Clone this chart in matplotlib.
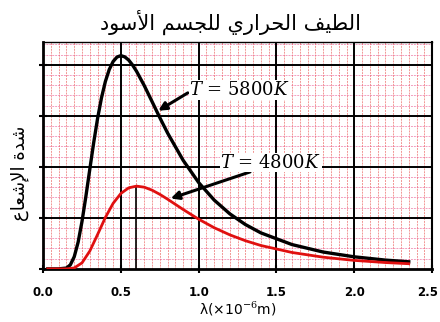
import numpy as np
import matplotlib
matplotlib.use("Agg")
import matplotlib.pyplot as plt
import matplotlib.transforms as mtransforms

# قيم مقروءة من الصورة
wavelength_5800 = [0.03, 0.10, 0.15, 0.175, 0.20, 0.225, 0.25, 0.275, 0.30, 0.325, 0.35, 0.375,
                   0.40, 0.425, 0.45, 0.475, 0.50, 0.525, 0.55, 0.575, 0.60, 0.65, 0.70, 0.75,
                   0.80, 0.90, 1.00, 1.10, 1.20, 1.30, 1.40, 1.60, 1.80, 2.00, 2.20, 2.35]
intensity_5800 = [0.0, 0.0, 0.016, 0.079, 0.238, 0.523, 0.931, 1.423, 1.952, 2.473, 2.948, 3.351,
                  3.672, 3.908, 4.065, 4.153, 4.180, 4.155, 4.093, 3.995, 3.876, 3.593, 3.280, 2.965,
                  2.663, 2.128, 1.691, 1.347, 1.079, 0.869, 0.705, 0.476, 0.330, 0.236, 0.172, 0.139]
wavelength_4800 = [0.03, 0.10, 0.15, 0.20, 0.25, 0.30, 0.35, 0.40, 0.45, 0.50, 0.55, 0.60,
                   0.65, 0.70, 0.75, 0.80, 0.90, 1.00, 1.10, 1.20, 1.30, 1.40, 1.60, 1.80,
                   2.00, 2.20, 2.35]
intensity_4800 = [0.0, 0.0, 0.0, 0.018, 0.118, 0.349, 0.673, 1.007, 1.285, 1.479, 1.588, 1.622,
                  1.601, 1.543, 1.461, 1.366, 1.164, 0.973, 0.806, 0.667, 0.552, 0.458, 0.321, 0.229,
                  0.166, 0.124, 0.101]
x_ticks = [0.0, 0.5, 1.0, 1.5, 2.0, 2.5]
x_tick_labels = ["0.0", "0.5", "1.0", "1.5", "2.0", "2.5"]
y_ticks = [0, 1, 2, 3, 4]
peak_4800 = (0.60, 1.622)

title_text = "الطيف الحراري للجسم الأسود"
ylabel_text = "شدة الإشعاع"

# تشكيل الحروف العربية يدويا (matplotlib لا يقوم بالتشكيل)
FORMS = {
    "ا": ("\ufe8d", "\ufe8e", None, None),
    "أ": ("\ufe83", "\ufe84", None, None),
    "إ": ("\ufe87", "\ufe88", None, None),
    "ة": ("\ufe93", "\ufe94", None, None),
    "ج": ("\ufe9d", "\ufe9e", "\ufe9f", "\ufea0"),
    "ح": ("\ufea1", "\ufea2", "\ufea3", "\ufea4"),
    "د": ("\ufea9", "\ufeaa", None, None),
    "ر": ("\ufead", "\ufeae", None, None),
    "س": ("\ufeb1", "\ufeb2", "\ufeb3", "\ufeb4"),
    "ش": ("\ufeb5", "\ufeb6", "\ufeb7", "\ufeb8"),
    "ط": ("\ufec1", "\ufec2", "\ufec3", "\ufec4"),
    "ع": ("\ufec9", "\ufeca", "\ufecb", "\ufecc"),
    "ف": ("\ufed1", "\ufed2", "\ufed3", "\ufed4"),
    "ل": ("\ufedd", "\ufede", "\ufedf", "\ufee0"),
    "م": ("\ufee1", "\ufee2", "\ufee3", "\ufee4"),
    "و": ("\ufeed", "\ufeee", None, None),
    "ي": ("\ufef1", "\ufef2", "\ufef3", "\ufef4"),
}
LAM_ALEF = {"ا": ("\ufefb", "\ufefc"), "أ": ("\ufef7", "\ufef8"), "إ": ("\ufef9", "\ufefa")}


def dual(ch):
    return ch in FORMS and FORMS[ch][2] is not None


def shape_arabic(text):
    out = []
    i = 0
    while i < len(text):
        ch = text[i]
        prev = text[i - 1] if i > 0 else ""
        joins_prev = dual(prev)
        if ch == "ل" and i + 1 < len(text) and text[i + 1] in LAM_ALEF:
            iso, fin = LAM_ALEF[text[i + 1]]
            out.append(fin if joins_prev else iso)
            i += 2
            continue
        if ch not in FORMS:
            out.append(ch)
            i += 1
            continue
        nxt = text[i + 1] if i + 1 < len(text) else ""
        joins_next = dual(ch) and nxt in FORMS
        iso, fin, ini, med = FORMS[ch]
        if joins_prev and joins_next:
            out.append(med)
        elif joins_prev:
            out.append(fin)
        elif joins_next:
            out.append(ini)
        else:
            out.append(iso)
        i += 1
    return "".join(out)[::-1]


plt.rcParams["font.family"] = ["DejaVu Sans"]
plt.rcParams["mathtext.fontset"] = "dejavuserif"

fig = plt.figure(figsize=(4.4, 3.22), dpi=100)
ax = fig.add_axes([0.098, 0.165, 0.884, 0.705])

# ورق الرسم البياني
for xv in np.arange(0.05, 2.5, 0.05):
    ax.axvline(xv, color="#e8403c", lw=0.7, ls=(0, (2, 1)), alpha=0.55, zorder=1)
for yv in np.arange(0.2, 4.45, 0.2):
    ax.axhline(yv, color="#ea4f8a", lw=0.7, ls=(0, (2, 1)), alpha=0.55, zorder=1)
for xv in x_ticks[1:-1]:
    ax.axvline(xv, color="black", lw=1.4, zorder=2)
for yv in y_ticks[1:]:
    ax.axhline(yv, color="black", lw=1.4, zorder=2)

ax.plot(wavelength_5800, intensity_5800, color="black", lw=2.4, zorder=4)
ax.plot(wavelength_4800, intensity_4800, color="#e01010", lw=2.0, zorder=4)
ax.vlines(peak_4800[0], 0, peak_4800[1], color="black", lw=1.2, zorder=3)

arrow = dict(arrowstyle="-|>", lw=2.2, color="black", mutation_scale=12, shrinkA=0, shrinkB=0)
ax.annotate("", xy=(0.74, 3.10), xytext=(0.93, 3.45), arrowprops=arrow, zorder=5)
ax.annotate("", xy=(0.82, 1.38), xytext=(1.33, 1.90), arrowprops=arrow, zorder=5)
box = dict(facecolor="white", edgecolor="none", pad=0.5)
ax.text(1.263, 3.51, "$T$ = 5800$K$", fontsize=13, family="DejaVu Serif",
        ha="center", va="center", bbox=box, zorder=6)
ax.text(1.462, 2.08, "$T$ = 4800$K$", fontsize=13, family="DejaVu Serif",
        ha="center", va="center", bbox=box, zorder=6)

ax.set_xlim(0, 2.5)
ax.set_ylim(0, 4.45)
ax.set_xticks(x_ticks)
ax.set_xticklabels(x_tick_labels, fontsize=8.5, fontweight="bold")
ax.set_yticks(y_ticks)
ax.set_yticklabels([])
ax.tick_params(axis="both", direction="inout", length=6, width=1.5, color="black")
ax.tick_params(axis="x", pad=9)
last = ax.get_xticklabels()[-1]
last.set_transform(last.get_transform() + mtransforms.ScaledTranslation(-4 / 100, 0, fig.dpi_scale_trans))

for side in ["left", "bottom"]:
    ax.spines[side].set_linewidth(2)
ax.spines["right"].set_linewidth(1.5)
ax.spines["top"].set_linewidth(1.0)

ax.set_xlabel("λ(×10$^{-6}$m)", fontsize=10, labelpad=1)
ax.set_ylabel(shape_arabic(ylabel_text), fontsize=13, y=0.42, labelpad=4)
fig.text(0.523, 0.93, shape_arabic(title_text), fontsize=15, ha="center", va="center")

fig.savefig("out.png", dpi=100, facecolor="white")
